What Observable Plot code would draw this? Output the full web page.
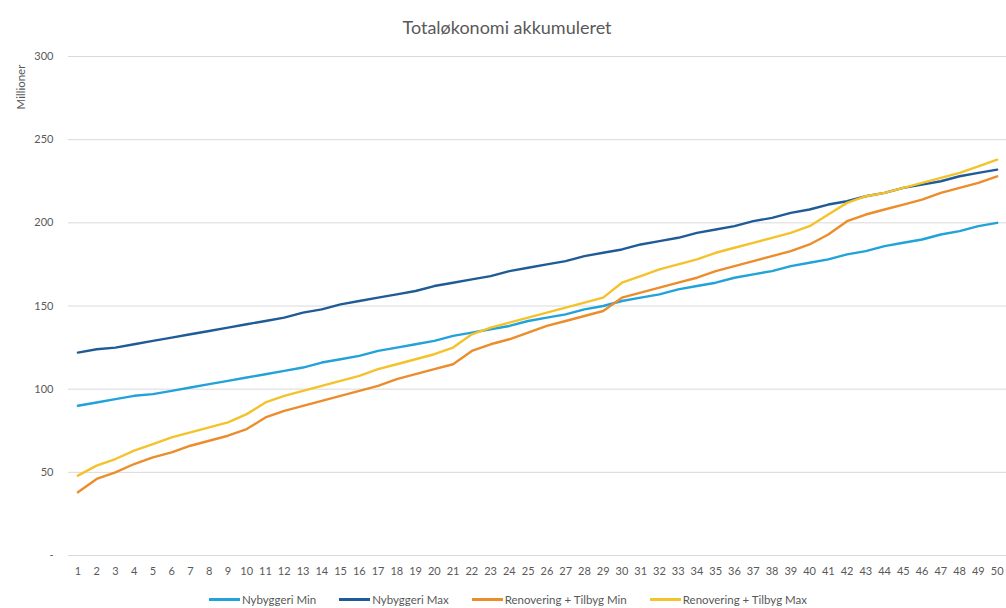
<!DOCTYPE html>
<html>
<head>
<meta charset="utf-8">
<script src="https://cdn.jsdelivr.net/npm/d3@7"></script>
<script src="https://cdn.jsdelivr.net/npm/@observablehq/plot@0.6"></script>
<style>
  body { margin: 0; background: #fff; font-family: Lato, "Open Sans", sans-serif; }
  #wrap { position: relative; width: 1006px; height: 608px; }
  #title { height: 44px; line-height: 54px; text-align: center; font-size: 18px; color: #595959; padding-left: 8px; box-sizing: border-box; }
  #ylabel { position: absolute; left: 20px; top: 87px; transform: translate(-50%, -50%) rotate(-90deg); font-size: 11.5px; color: #595959; white-space: nowrap; }
  #legend { display: flex; justify-content: center; gap: 23px; font-size: 11.5px; color: #595959; margin-top: 8px; padding-left: 10px; }
  .item { display: flex; align-items: center; }
  .sw { display: inline-block; width: 31px; height: 2.5px; margin-right: 2px; }
</style>
</head>
<body>
<div id="wrap">
  <div id="title">Totaløkonomi akkumuleret</div>
  <div id="ylabel">Millioner</div>
  <div id="chart"></div>
  <div id="legend"></div>
</div>
<script>
const years = [1,2,3,4,5,6,7,8,9,10,11,12,13,14,15,16,17,18,19,20,21,22,23,24,25,26,27,28,29,30,31,32,33,34,35,36,37,38,39,40,41,42,43,44,45,46,47,48,49,50];
const seriesNames = ["Nybyggeri Min", "Nybyggeri Max", "Renovering + Tilbyg Min", "Renovering + Tilbyg Max"];
const seriesColors = ["#21a3da", "#1f5c97", "#ec8d2c", "#f4c22b"];
const yTicks = [0, 50, 100, 150, 200, 250, 300];

const nybyggeriMin = [90,92,94,96,97,99,101,103,105,107, 109,111,113,116,118,120,123,125,127,129, 132,134,136,138,141,143,145,148,150,153, 155,157,160,162,164,167,169,171,174,176, 178,181,183,186,188,190,193,195,198,200];
const nybyggeriMax = [122,124,125,127,129,131,133,135,137,139, 141,143,146,148,151,153,155,157,159,162, 164,166,168,171,173,175,177,180,182,184, 187,189,191,194,196,198,201,203,206,208, 211,213,216,218,221,223,225,228,230,232];
const renoveringMin = [38,46,50,55,59,62,66,69,72,76, 83,87,90,93,96,99,102,106,109,112, 115,123,127,130,134,138,141,144,147,155, 158,161,164,167,171,174,177,180,183,187, 193,201,205,208,211,214,218,221,224,228];
const renoveringMax = [48,54,58,63,67,71,74,77,80,85, 92,96,99,102,105,108,112,115,118,121, 125,133,137,140,143,146,149,152,155,164, 168,172,175,178,182,185,188,191,194,198, 205,212,216,218,221,224,227,230,234,238];

const seriesValues = [nybyggeriMin, nybyggeriMax, renoveringMin, renoveringMax];
const rows = [];
seriesValues.forEach((vals, s) => vals.forEach((v, i) => rows.push({year: years[i], value: v, series: seriesNames[s]})));

const chart = Plot.plot({
  width: 1006,
  height: 541,
  marginTop: 12,
  marginLeft: 68,
  marginRight: 0,
  marginBottom: 30,
  style: {fontFamily: "Lato, 'Open Sans', sans-serif", fontSize: "11px", color: "#595959", background: "#fff"},
  x: {type: "point", domain: years, padding: 0.5, label: null, tickSize: 0, tickPadding: 12},
  y: {domain: [0, 300], ticks: yTicks, label: null, tickSize: 0, tickPadding: 15, tickFormat: d => d === 0 ? "-" : String(d)},
  color: {domain: seriesNames, range: seriesColors},
  marks: [
    Plot.gridY(yTicks, {stroke: "#d9d9d9", strokeOpacity: 1, strokeWidth: 1}),
    Plot.lineY(rows, {x: "year", y: "value", z: "series", stroke: "series", strokeWidth: 2.4, strokeLinejoin: "round"})
  ]
});
document.getElementById("chart").appendChild(chart);

const legend = document.getElementById("legend");
seriesNames.forEach((n, i) => {
  const it = document.createElement("div");
  it.className = "item";
  const sw = document.createElement("span");
  sw.className = "sw";
  sw.style.background = seriesColors[i];
  const t = document.createElement("span");
  t.textContent = n;
  it.appendChild(sw); it.appendChild(t);
  legend.appendChild(it);
});
</script>
</body>
</html>
